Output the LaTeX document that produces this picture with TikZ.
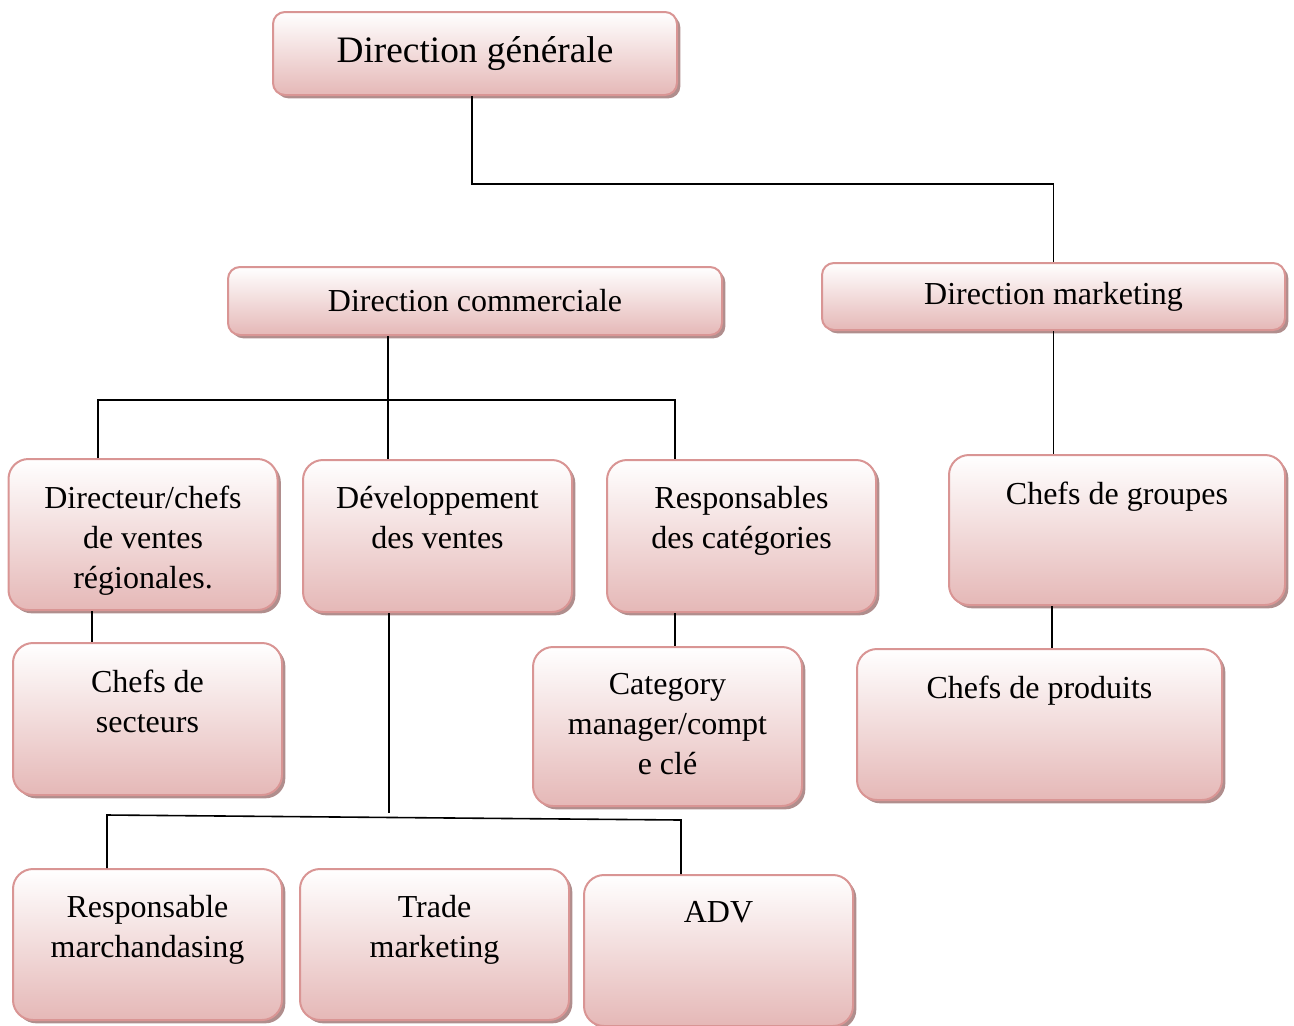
\documentclass[tikz,border=0pt]{standalone}
\usepackage{fontspec}
\setmainfont{Liberation Serif}
\usetikzlibrary{shadows,calc}

\definecolor{boxline}{HTML}{D99594}
\definecolor{boxlow}{HTML}{E5B8B7}
\definecolor{boxshade}{HTML}{B08E8D}

\tikzset{
  orgbox/.style={draw=boxline, line width=1.5pt, rounded corners=9pt,
                 top color=white, bottom color=boxlow, inner sep=0pt,
                 drop shadow={fill=boxshade, opacity=1, shadow xshift=2.5pt, shadow yshift=-2.5pt},
                 font=\fontsize{24}{30}\selectfont},
  tallbox/.style={orgbox, rounded corners=15pt},
  smallbox/.style={tallbox, minimum width=201.75pt, minimum height=113.25pt},
  toptxt/.style={anchor=north, yshift=-20.5pt, align=center, inner sep=0pt,
                 font=\fontsize{24}{30}\selectfont},
  link/.style={line width=1.2pt}
}

\begin{document}
\begin{tikzpicture}[x=0.75pt, y=-0.75pt]
\useasboundingbox (0,0) rectangle (1294,1025);

% direction
\node[orgbox, minimum width=303pt, minimum height=62.25pt, font=\fontsize{28}{34}\selectfont] (gen) at (475,53.5) {Direction générale};
\node[orgbox, minimum width=370.5pt, minimum height=51pt] (com) at (475,301) {Direction commerciale};
\node[orgbox, minimum width=347.25pt, minimum height=50.25pt] (mkt) at (1053.5,296.5) {Direction marketing};

% second row
\node[smallbox, label={[toptxt]north:Directeur/chefs\\de ventes\\régionales.}] (dir) at (143,534.5) {};
\node[smallbox, minimum height=114pt, label={[toptxt]north:Développement\\des ventes}] (dev) at (437.5,536) {};
\node[smallbox, minimum height=114pt, label={[toptxt]north:Responsables\\des catégories}] (cat) at (741.5,536) {};
\node[tallbox, minimum width=252pt, minimum height=112.5pt, label={[toptxt]north:Chefs de groupes}] (grp) at (1117,530) {};

% third row
\node[smallbox, minimum height=114pt, label={[toptxt]north:Chefs de\\secteurs}] (sec) at (147.5,719) {};
\node[smallbox, minimum height=119.25pt, label={[toptxt]north:Category\\manager/compt\\e clé}] (cm) at (667.5,726.5) {};
\node[tallbox, minimum width=273.75pt, minimum height=113.25pt, label={[toptxt]north:Chefs de produits}] (prod) at (1039.5,724.5) {};

% bottom row
\node[smallbox, label={[toptxt]north:Responsable\\marchandasing}] (rm) at (147.5,944.5) {};
\node[smallbox, label={[toptxt]north:Trade\\marketing}] (trade) at (434.5,944.5) {};
\node[smallbox, label={[toptxt]north:ADV}] (adv) at (718.5,950.5) {};

% links
\coordinate (genfork) at (472,184);
\draw[link] (gen.south -| genfork) -- (genfork) -| (mkt.north);

\coordinate (dirfork) at (98,400);
\coordinate (comfork) at (388,400);
\coordinate (catfork) at (675,400);
\draw[link] (com.south -| comfork) -- (dev.north -| comfork);
\draw[link] (dir.north -| dirfork) -- (dirfork) -- (catfork) -- (cat.north -| catfork);
\draw[link] (mkt.south) -- (mkt.south |- grp.north);

\coordinate (secdrop) at (92,625);
\coordinate (cmdrop) at (675,630);
\coordinate (proddrop) at (1052,628);
\draw[link] (dir.south -| secdrop) -- (sec.north -| secdrop);
\draw[link] (cat.south -| cmdrop) -- (cm.north -| cmdrop);
\draw[link] (grp.south -| proddrop) -- (prod.north -| proddrop);

\coordinate (devfork) at (389,813);
\coordinate (rmfork) at (107,815);
\coordinate (advfork) at (681,820);
\draw[link] (dev.south -| devfork) -- (devfork);
\draw[link] (rm.north -| rmfork) -- (rmfork) -- (advfork) -- (adv.north -| advfork);
\end{tikzpicture}
\end{document}
